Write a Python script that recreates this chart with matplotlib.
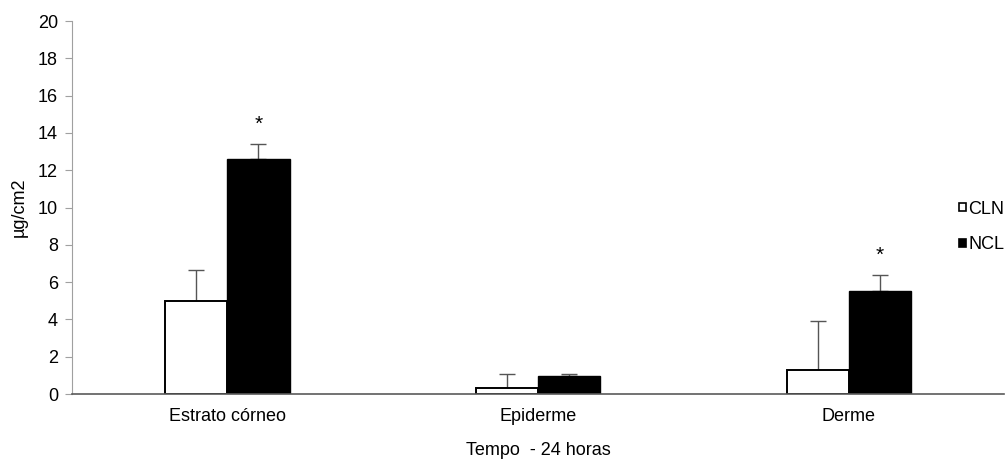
import matplotlib
matplotlib.use("Agg")
import matplotlib.pyplot as plt
import numpy as np

categories = ["Estrato córneo", "Epiderme", "Derme"]
cln_values = [5.0, 0.32, 1.3]
cln_errors = [1.65, 0.75, 2.6]
ncl_values = [12.6, 0.95, 5.5]
ncl_errors = [0.8, 0.1, 0.9]
significant = [True, False, True]
y_ticks = [0, 2, 4, 6, 8, 10, 12, 14, 16, 18, 20]

plt.rcParams["font.family"] = ["Liberation Sans", "DejaVu Sans"]
fs = 13

fig = plt.figure(figsize=(10.08, 4.61), dpi=100)
ax = fig.add_axes([0.0714, 0.1453, 0.925, 0.809])

x = np.arange(len(categories))
w = 0.2
ygray = "#a0a0a0"
xgray = "#5a5a5a"

ax.bar(x - w / 2, cln_values, w, color="white", edgecolor="black", linewidth=1.4,
       label="CLN", zorder=2)
ax.bar(x + w / 2, ncl_values, w, color="black", edgecolor="black", linewidth=1.0,
       label="NCL", zorder=2)
ax.errorbar(x - w / 2, cln_values, yerr=[np.zeros(3), cln_errors], fmt="none",
            ecolor="#555555", elinewidth=1.0, capsize=6, capthick=1.0, zorder=1)
ax.errorbar(x + w / 2, ncl_values, yerr=[np.zeros(3), ncl_errors], fmt="none",
            ecolor="#555555", elinewidth=1.0, capsize=6, capthick=1.0, zorder=1)

for xi, v, e, s in zip(x, ncl_values, ncl_errors, significant):
    if s:
        ax.text(xi + w / 2, v + e + 0.55, "*", ha="center", va="bottom", fontsize=15)

ax.set_xlim(-0.5, 2.5)
ax.set_ylim(0, 20)
ax.set_yticks(y_ticks)
ax.set_xticks(x)
ax.set_xticklabels(categories, fontsize=fs)
ax.tick_params(axis="y", labelsize=fs, length=5, color=ygray, direction="out", pad=5)
ax.tick_params(axis="x", length=0, pad=10)
ax.set_ylabel("µg/cm2", fontsize=fs, labelpad=7)
ax.set_xlabel("Tempo  - 24 horas", fontsize=fs, labelpad=12)

for side in ("top", "right"):
    ax.spines[side].set_visible(False)
ax.spines["left"].set_color(ygray)
ax.spines["bottom"].set_color(xgray)
ax.spines["bottom"].set_linewidth(1.2)

leg = fig.legend(loc="center left", bbox_to_anchor=(959 / 1008, 1 - 227 / 461),
                 frameon=False, fontsize=fs, handlelength=0.38, handleheight=0.38,
                 handletextpad=0.15, labelspacing=1.05, borderaxespad=0,
                 borderpad=0)
for h in leg.legend_handles:
    h.set_linewidth(1.2)

fig.savefig("out.png", dpi=100)
